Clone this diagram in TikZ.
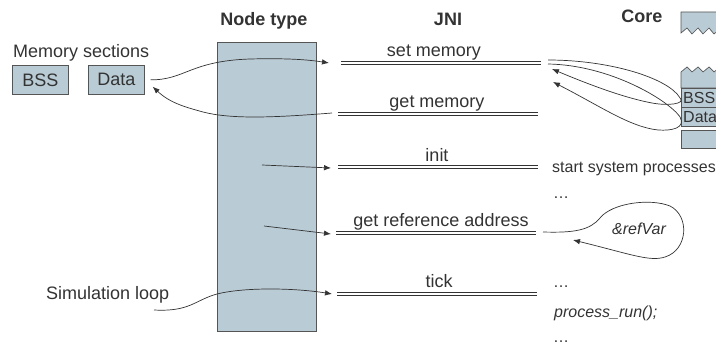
\documentclass[tikz,border=0pt]{standalone}
\usepackage{fontspec}
\setmainfont{Liberation Sans}
\usetikzlibrary{arrows.meta}
\definecolor{boxfill}{HTML}{B9CBD5}
\definecolor{ink}{HTML}{333333}
\definecolor{edgec}{HTML}{555555}
\begin{document}
\begin{tikzpicture}[x=1pt,y=-1pt,
  lbl/.style={font=\fontsize{18}{20}\selectfont, text=ink, inner sep=0},
  sml/.style={font=\fontsize{16}{18}\selectfont, text=ink, inner sep=0},
  hdr/.style={font=\fontsize{18}{20}\selectfont\bfseries, text=ink, inner sep=0},
  box/.style={draw=edgec, fill=boxfill, line width=0.7pt, inner sep=0},
  dblline/.style={draw=ink, line width=0.8pt},
  arr/.style={draw=ink, line width=0.7pt, -{Latex[length=7pt,width=5.5pt]}},
  con/.style={draw=ink, line width=0.7pt}]
\useasboundingbox (0,0) rectangle (716,347);
\clip (0,0) rectangle (716,347);

% headers
\node[hdr, anchor=base] (hnt) at (264,26) {Node type};
\node[hdr, anchor=base] (hjni) at (448,26) {JNI};
\node[hdr, anchor=base] (hcore) at (642,23) {Core};

% left memory sections
\node[lbl, anchor=base west] (memsec) at (13,58) {Memory sections};
\node[box, anchor=north west, minimum width=56, minimum height=29, font=\fontsize{18}{20}\selectfont, text=ink] (bss) at (12,65) {BSS};
\node[box, anchor=north west, minimum width=56, minimum height=29, font=\fontsize{18}{20}\selectfont, text=ink] (data) at (88,65) {Data};

% node type box
\node[box, anchor=north west, minimum width=99, minimum height=289] (nt) at (217,42) {};

% JNI double lines
\coordinate (sm1) at (341,63); \coordinate (sm2) at (541,63);
\coordinate (gm1) at (338,114); \coordinate (gm2) at (538,114);
\coordinate (in1) at (338,167); \coordinate (in2) at (538,167);
\coordinate (gr1) at (336,233); \coordinate (gr2) at (536,233);
\coordinate (tk1) at (337,294); \coordinate (tk2) at (537,294);
\foreach \a/\b in {sm1/sm2, gm1/gm2, in1/in2, gr1/gr2, tk1/tk2}{
  \draw[dblline] ([yshift=1.3pt]\a) -- ([yshift=1.3pt]\b);
  \draw[dblline] ([yshift=-1.3pt]\a) -- ([yshift=-1.3pt]\b);
}
\node[lbl, anchor=base] (lsm) at (434,57) {set memory};
\node[lbl, anchor=base] (lgm) at (437,108) {get memory};
\node[lbl, anchor=base] (lin) at (437,162) {init};
\node[lbl, anchor=base] (lgr) at (441,227) {get reference address};
\node[lbl, anchor=base] (ltk) at (439,287.5) {tick};

\node[lbl, anchor=base west] (simloop) at (46,300) {Simulation loop};

% right side texts
\node[sml, anchor=base west] (ssp) at (552,173) {start system processes};
\node[sml, anchor=base west] (dots1) at (553,199) {\dots};
\node[sml, anchor=base west, font=\fontsize{16}{18}\selectfont\itshape] (refvar) at (612,235) {\&refVar};
\node[sml, anchor=base west] (dots2) at (553,288) {\dots};
\node[sml, anchor=base west, font=\fontsize{16}{18}\selectfont\itshape] (prun) at (554,318) {process\_run();};
\node[sml, anchor=base west] (dots3) at (553,343) {\dots};

% core column
\filldraw[box] (681,12) -- (720,12) -- (720,29) -- (714,34) -- (709,28) -- (703,34) -- (698,28) -- (692,34) -- (687,28) -- (681,33) -- cycle;
\filldraw[box] (681,72) -- (687,67) -- (692,72) -- (698,67) -- (703,72) -- (709,67) -- (714,72) -- (720,67) -- (720,88) -- (681,88) -- cycle;
\node[box, anchor=north west, minimum width=40, minimum height=19] (cbss) at (681,88) {};
\node[box, anchor=north west, minimum width=40, minimum height=19] (cdata) at (681,107) {};
\node[box, anchor=north west, minimum width=40, minimum height=18] (cbot) at (681,130) {};
\node[sml, anchor=base west] (tbss) at (683,104) {BSS};
\node[sml, anchor=base west] (tdata) at (683,123) {Data};

% arrows left/middle
\coordinate (a1s) at ([xshift=6]data.east);
\coordinate (a1e) at ([xshift=-12]sm1);
\draw[arr] (a1s) .. controls (185,80) and (190,61) .. (250,59) .. controls (290,58) and (310,60) .. (a1e);

\coordinate (a2s) at ([xshift=-6,yshift=1]gm1);
\coordinate (a2e) at ([xshift=8,yshift=8]data.south east);
\draw[arr] (a2s) .. controls (270,118) and (230,119) .. (203,112) .. controls (185,107) and (170,103) .. (a2e);

\coordinate (a3s) at (262,165);
\coordinate (a3e) at ([xshift=-7,yshift=-1]in1);
\draw[arr] (a3s) -- (a3e);

\coordinate (a4s) at (264,226);
\coordinate (a4e) at ([xshift=-5,yshift=-1]gr1);
\draw[arr] (a4s) -- (a4e);

\coordinate (a5s) at (154,310);
\coordinate (a5e) at ([xshift=-5]tk1);
\draw[arr] (a5s) .. controls (190,312) and (195,300) .. (217,294) .. controls (245,287) and (295,288) .. (a5e);

% core loops
\coordinate (c1s) at (548,60);
\coordinate (c1e) at (552,69);
\draw[arr] (c1s) .. controls (610,60) and (668,78) .. ([xshift=-1]cbss.west) .. controls (686,104) and (668,106) .. (652,103) .. controls (625,98) and (590,85) .. (c1e);
\coordinate (c2s) at (548,64);
\coordinate (c2e) at (553,82);
\draw[arr] (c2s) .. controls (610,65) and (668,100) .. ([xshift=-1]cdata.west) .. controls (686,128) and (672,131) .. (658,130) .. controls (630,127) and (600,106) .. (c2e);

% ref loop
\coordinate (r1s) at ([xshift=7,yshift=1]gr2);
\coordinate (r1e) at (573,240);
\draw[arr] (r1s) .. controls (575,233) and (590,230) .. (600,218) .. controls (612,203) and (650,198) .. (670,206) .. controls (690,216) and (688,250) .. (665,257) .. controls (650,262) and (630,254) .. (r1e);
\end{tikzpicture}
\end{document}
